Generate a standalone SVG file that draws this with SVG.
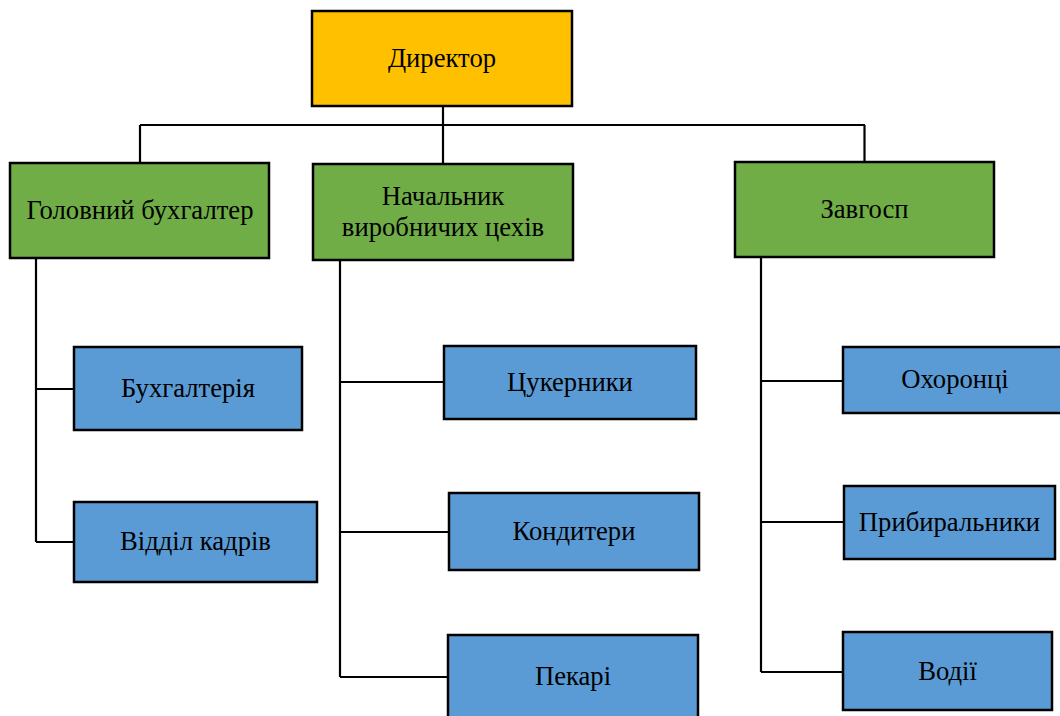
<svg xmlns="http://www.w3.org/2000/svg" width="1060" height="716" viewBox="0 0 1060 716">
  <style>
    .box { stroke: #000; stroke-width: 2.5; }
    .top { fill: #FFC000; }
    .mid { fill: #70AD47; }
    .low { fill: #5B9BD5; }
    .lbl { font-family: "Liberation Serif", "Times New Roman", serif; font-size: 26.67px; fill: #000; text-anchor: middle; }
    .wire { fill: none; stroke: #000; stroke-width: 2.2; }
  </style>
  <rect width="1060" height="716" fill="#fff"/>

  <g id="connectors">
    <!-- director to department heads -->
    <path class="wire" d="M443 106 V125 M140 125 H865 M140 125 V163 M443 125 V164 M864.5 125 V162"/>
    <!-- chief accountant branch -->
    <path class="wire" d="M36 258 V542 M36 389 H74 M36 542 H74"/>
    <!-- production manager branch -->
    <path class="wire" d="M340 260 V677 M340 382 H444 M340 532 H449 M340 677 H448"/>
    <!-- supply manager branch -->
    <path class="wire" d="M761 257 V672 M761 381 H843 M761 522 H844 M761 672 H843"/>
  </g>

  <g id="director">
    <rect class="box top" x="312" y="11" width="260" height="95"/>
    <text class="lbl" x="442" y="67">Директор</text>
  </g>

  <g id="chief-accountant">
    <rect class="box mid" x="10" y="163" width="259" height="95"/>
    <text class="lbl" x="140" y="219">Головний бухгалтер</text>
  </g>

  <g id="production-manager">
    <rect class="box mid" x="313" y="164" width="260" height="96"/>
    <text class="lbl" x="443" y="204.5">Начальник</text>
    <text class="lbl" x="443" y="235.5">виробничих цехів</text>
  </g>

  <g id="supply-manager">
    <rect class="box mid" x="735" y="162" width="259" height="95"/>
    <text class="lbl" x="864.5" y="218">Завгосп</text>
  </g>

  <g id="accounting">
    <rect class="box low" x="74" y="347" width="228" height="83"/>
    <text class="lbl" x="188" y="397">Бухгалтерія</text>
  </g>

  <g id="personnel">
    <rect class="box low" x="74" y="502" width="243" height="80"/>
    <text class="lbl" x="195.5" y="550">Відділ кадрів</text>
  </g>

  <g id="confectioners-sweets">
    <rect class="box low" x="444" y="346" width="252" height="73"/>
    <text class="lbl" x="570" y="391">Цукерники</text>
  </g>

  <g id="confectioners">
    <rect class="box low" x="449" y="493" width="250" height="77"/>
    <text class="lbl" x="574" y="540">Кондитери</text>
  </g>

  <g id="bakers">
    <rect class="box low" x="448" y="635" width="250" height="83"/>
    <text class="lbl" x="573" y="685">Пекарі</text>
  </g>

  <g id="guards">
    <rect class="box low" x="843" y="347" width="224" height="66"/>
    <text class="lbl" x="955" y="388">Охоронці</text>
  </g>

  <g id="cleaners">
    <rect class="box low" x="844" y="486" width="211" height="73"/>
    <text class="lbl" x="949.5" y="531">Прибиральники</text>
  </g>

  <g id="drivers">
    <rect class="box low" x="843" y="632" width="209" height="78"/>
    <text class="lbl" x="947.5" y="680">Водії</text>
  </g>
</svg>
